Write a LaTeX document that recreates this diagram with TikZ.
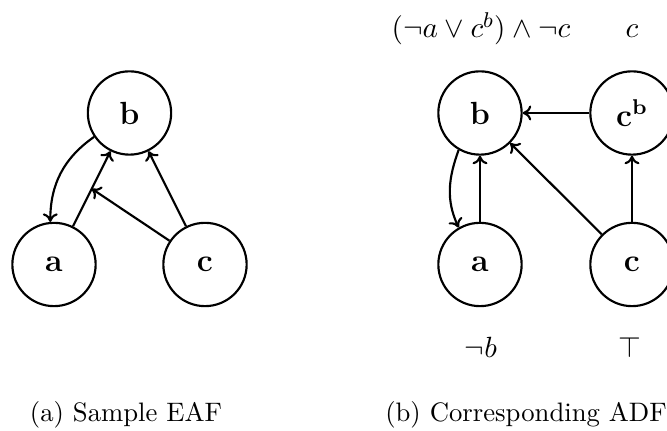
\documentclass[tikz,border=0pt]{standalone}
\usetikzlibrary{calc,arrows.meta}
\begin{document}
\begin{tikzpicture}[x=0.3745pt,y=-0.3745pt,
  arg/.style={circle,draw,thick,minimum size=31.2pt,inner sep=0pt,font=\large\bfseries},
  att/.style={-{To[length=3.2pt,width=5.6pt]},thick},
  lbl/.style={anchor=base,inner sep=0pt,font=\fontsize{10.9pt}{13pt}\selectfont},
  captxt/.style={anchor=base,inner sep=0pt}]
\useasboundingbox (0,0) rectangle (667,431);
% (a) Sample EAF
\node[arg] (lb) at (129.5,113) {b};
\node[arg] (la) at (54,264.5) {a};
\node[arg] (lc) at (205,264.5) {c};
\draw[att] (la) -- (lb);
\draw[att] (lc) -- (lb);
\coordinate (lm) at ($(la)!0.5!(lb)$);
\draw[att] (lc) -- (lm);
\draw[att] (lb.214) to[out=215,in=90] (la.95);
\node[captxt] (capa) at (126,422) {(a) Sample EAF};
% (b) Corresponding ADF
\node[arg] (rb) at (480,113) {b};
\node[arg] (rcb) at (632,113) {$\mathbf{c}^{\mathbf{b}}$};
\node[arg] (ra) at (480,264.5) {a};
\node[arg] (rc) at (632,264.5) {c};
\draw[att] (rcb) -- (rb);
\draw[att] (ra) -- (rb);
\draw[att] (rc) -- (rcb);
\draw[att] (rc) -- (rb);
\draw[att] (rb.240) to[out=250,in=115] (ra.120);
\node[lbl] (fb) at (481,38) {$(\neg a \vee c^b) \wedge \neg c$};
\node[lbl] (fcb) at (632,38) {$c$};
\node[lbl] (fa) at (481,358) {$\neg b$};
\node[lbl] (fc) at (630,358) {$\top$};
\node[captxt] (capb) at (526,422) {(b) Corresponding ADF};
\end{tikzpicture}
\end{document}
